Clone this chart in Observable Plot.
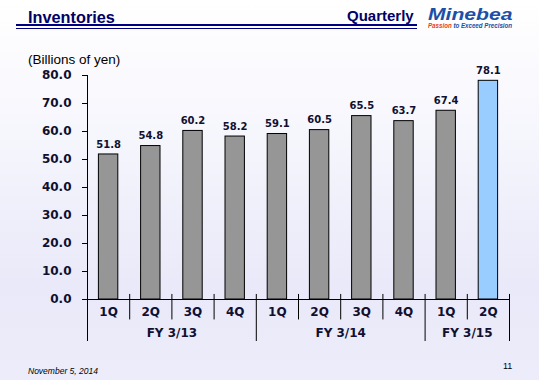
<!DOCTYPE html>
<html>
<head>
<meta charset="utf-8">
<script src="https://cdn.jsdelivr.net/npm/d3@7"></script>
<script src="https://cdn.jsdelivr.net/npm/@observablehq/plot@0.6"></script>
<style>
  html, body { margin: 0; padding: 0; }
  #page {
    position: relative; width: 539px; height: 380px; overflow: hidden;
    background: linear-gradient(to bottom, #ffffff 0%, #f6f6fd 35%, #e9e9f9 75%, #ececfa 100%);
    font-family: "Liberation Sans", Arial, sans-serif;
  }
  #chart { position: absolute; left: 0; top: 0; }
  .abs { position: absolute; white-space: nowrap; line-height: 1; }
  #title { left: 28px; top: 9px; font-size: 16.3px; font-weight: bold; color: #000066; }
  #quarterly { left: 347px; top: 8.3px; font-size: 15px; font-weight: bold; color: #000066; }
  #rule1 { left: 16px; top: 24px; width: 401px; height: 2px; background: #000080; }
  #rule2 { left: 16px; top: 28px; width: 401px; height: 1px; background: #000080; }
  #logo { left: 428px; top: 6.5px; font-size: 16px; font-weight: bold; font-style: italic; color: #1c4fa8; transform: scaleX(1.32); transform-origin: left top; }
  #tag { left: 428px; top: 22.5px; font-size: 6.5px; font-weight: bold; font-style: italic; color: #1c4fa8; transform: scaleX(0.95); transform-origin: left top; }
  #tag span { color: #e8401c; }
  #unit { left: 28px; top: 53px; font-size: 13.5px; color: #000; }
  #date { left: 28px; top: 367px; font-size: 8.5px; font-style: italic; color: #000; }
  #pageno { left: 503px; top: 362.4px; font-size: 9px; color: #000; }
</style>
</head>
<body>
<div id="page">
  <div id="chart"></div>
  <div class="abs" id="title">Inventories</div>
  <div class="abs" id="quarterly">Quarterly</div>
  <div class="abs" id="rule1"></div>
  <div class="abs" id="rule2"></div>
  <div class="abs" id="logo">Minebea</div>
  <div class="abs" id="tag"><span>Passion</span> to Exceed Precision</div>
  <div class="abs" id="unit">(Billions of yen)</div>
  <div class="abs" id="date">November 5, 2014</div>
  <div class="abs" id="pageno">11</div>
</div>
<script>
// ---- data ----
const quarters = ["1Q","2Q","3Q","4Q","1Q","2Q","3Q","4Q","1Q","2Q"];
const fiscalYears = ["FY 3/13","FY 3/13","FY 3/13","FY 3/13","FY 3/14","FY 3/14","FY 3/14","FY 3/14","FY 3/15","FY 3/15"];
const values = [51.8, 54.8, 60.2, 58.2, 59.1, 60.5, 65.5, 63.7, 67.4, 78.1];
const highlighted = [false,false,false,false,false,false,false,false,false,true];
const yTicks = [0, 10, 20, 30, 40, 50, 60, 70, 80];

// ---- derived tables ----
const bars = values.map((v, i) => ({i, q: quarters[i], fy: fiscalYears[i], v, hi: highlighted[i]}));
const fyGroups = [];
fiscalYears.forEach((fy, i) => {
  const last = fyGroups[fyGroups.length - 1];
  if (last && last.fy === fy) last.end = i + 1;
  else fyGroups.push({fy, start: i, end: i + 1});
});
const majorBounds = [0, ...fyGroups.map(g => g.end)];
const minorBounds = d3.range(1, quarters.length).filter(k => !majorBounds.includes(k));

const ink = "#101030";
const font = "'DejaVu Sans', Verdana, sans-serif";
const chart = Plot.plot({
  width: 539,
  height: 380,
  marginLeft: 87,
  marginRight: 30,
  marginTop: 75,
  marginBottom: 81,
  style: {background: "transparent", overflow: "visible", fontFamily: font},
  x: {domain: [0, quarters.length], axis: null},
  y: {domain: [0, 80], axis: null},
  marks: [
    Plot.axisY({ticks: yTicks, tickFormat: d => d.toFixed(1), tickSize: 5, tickPadding: 11, label: null,
      fontSize: 12, fontWeight: "bold", fontFamily: font, fill: ink, stroke: "#000", strokeWidth: 1}),
    Plot.rectY(bars, {x1: d => d.i, x2: d => d.i + 1, y: "v", insetLeft: 11.4, insetRight: 11.4,
      fill: d => d.hi ? "#99ccff" : "#969696", stroke: "#000", strokeWidth: 1}),
    Plot.text(bars, {x: d => d.i + 0.5, y: "v", text: d => d.v.toFixed(1), dy: -10,
      fontSize: 10, fontWeight: "bold", fontFamily: font, fill: ink}),
    // axis lines and category separators
    Plot.ruleY([0], {x1: 0, x2: quarters.length, stroke: "#000", strokeWidth: 1}),
    Plot.ruleX([0], {y1: -15, y2: 80, stroke: "#000", strokeWidth: 1}),
    Plot.ruleX(majorBounds.filter(b => b > 0), {y1: -15, y2: 1.8, stroke: "#000", strokeWidth: 1}),
    Plot.ruleX(minorBounds, {y1: -7.3, y2: 1.8, stroke: "#000", strokeWidth: 1}),
    // category labels
    Plot.text(bars, {x: d => d.i + 0.5, y: 0, text: "q", dy: 13,
      fontSize: 12, fontWeight: "bold", fontFamily: font, fill: ink}),
    Plot.text(fyGroups, {x: d => (d.start + d.end) / 2, y: 0, text: "fy", dy: 34,
      fontSize: 12, fontWeight: "bold", fontFamily: font, fill: ink})
  ]
});
document.getElementById("chart").appendChild(chart);
</script>
</body>
</html>
